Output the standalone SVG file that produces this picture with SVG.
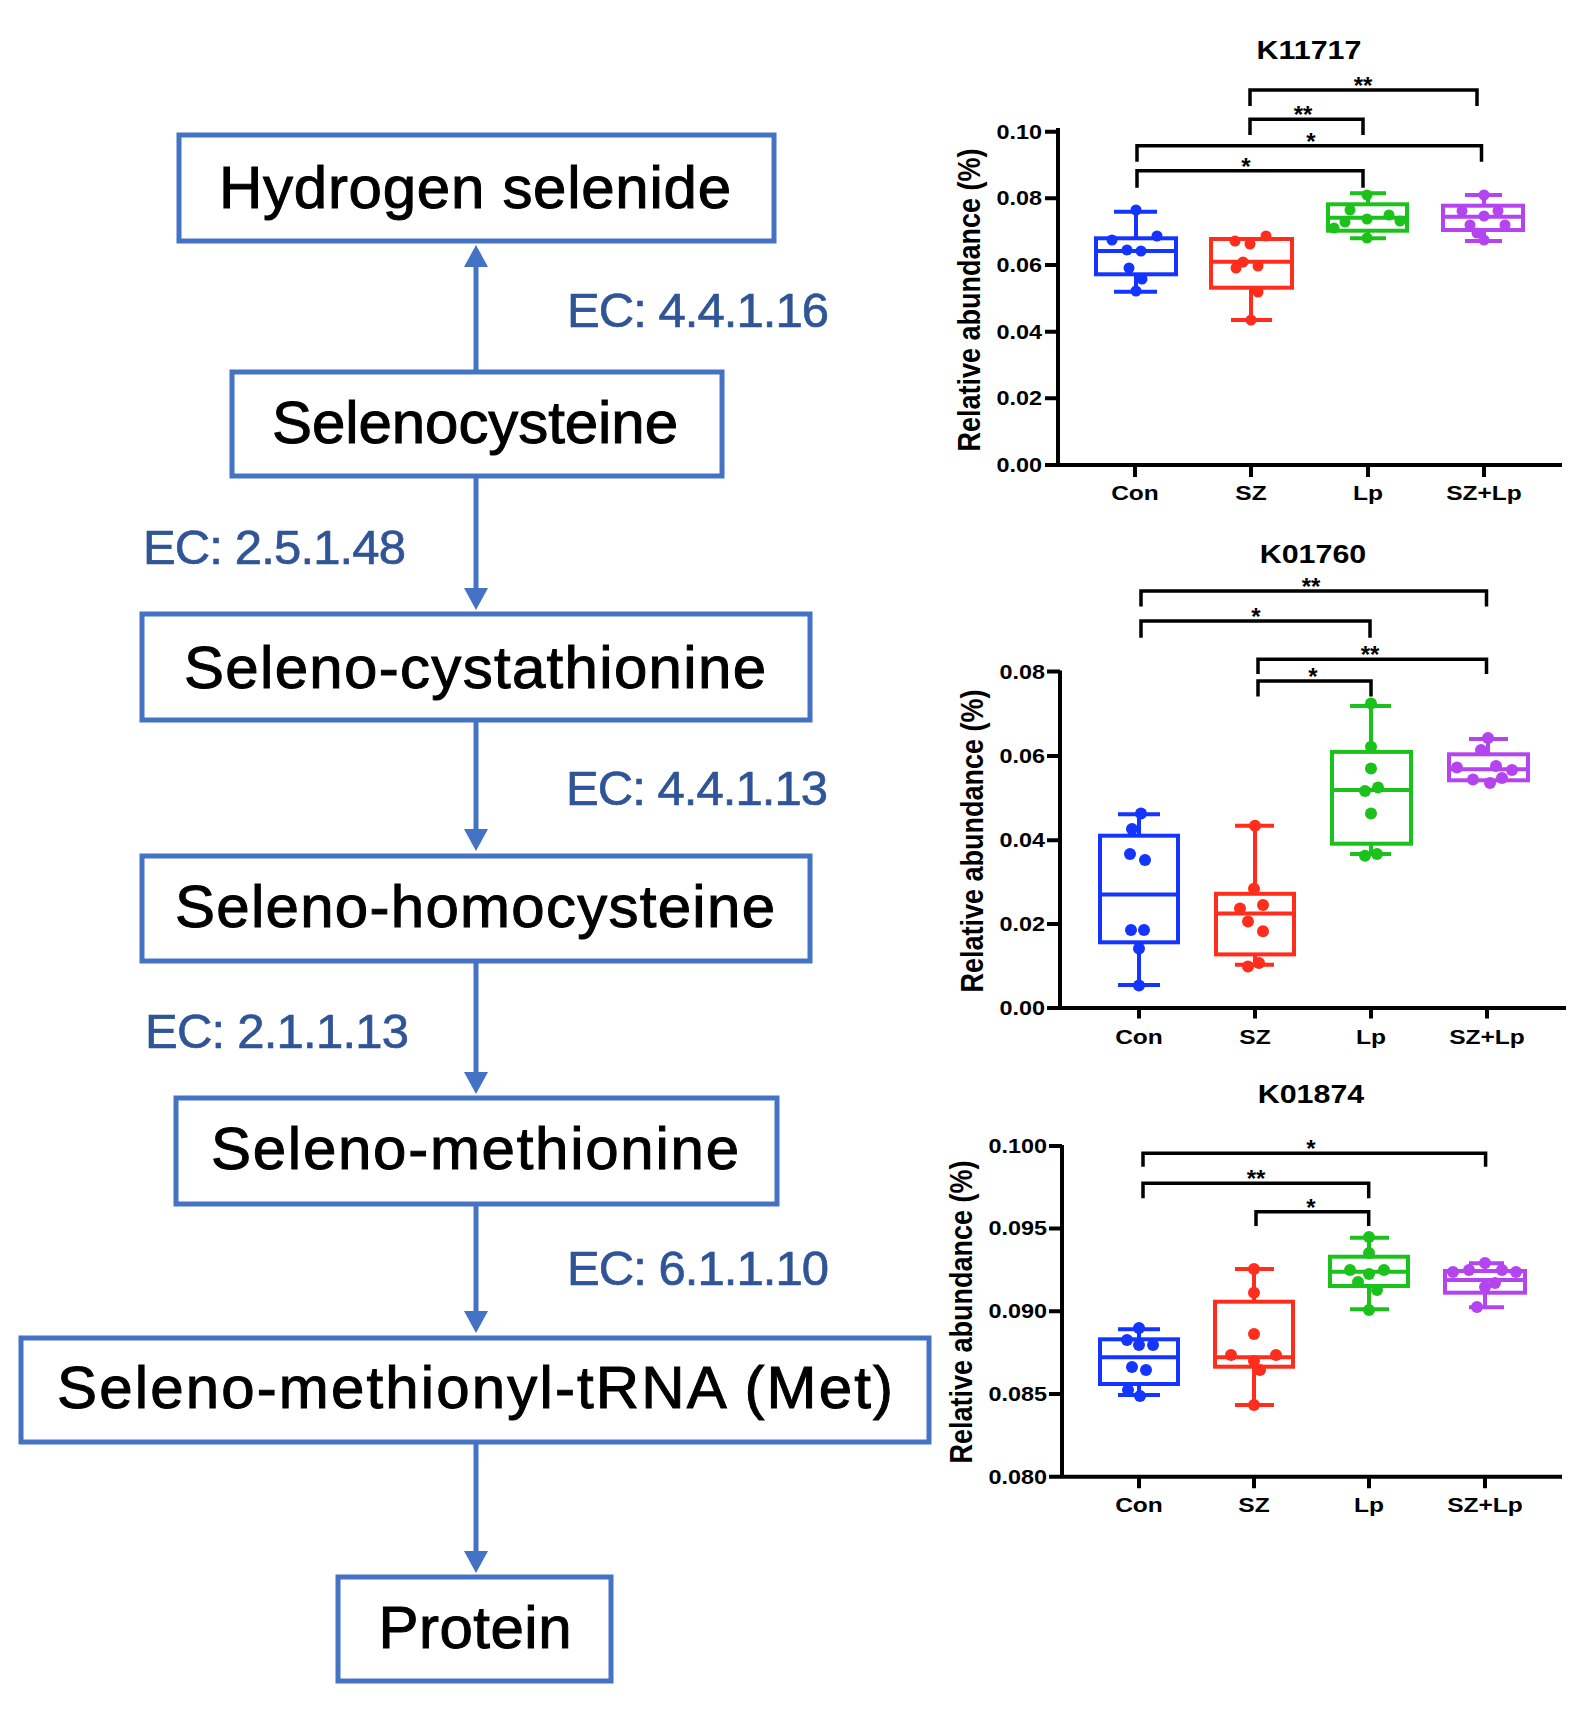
<svg xmlns="http://www.w3.org/2000/svg" width="1596" height="1716" viewBox="0 0 1596 1716">
<defs>
<marker id="ah" markerUnits="userSpaceOnUse" markerWidth="22" markerHeight="24" viewBox="0 0 22 24" refX="12" refY="12" orient="auto">
<path d="M0,0 L22,12 L0,24 Z" fill="#4472C4"/>
</marker>
<style>
.box rect{fill:#fff;stroke:#4472C4;stroke-width:5}
.lbl{font-family:"Liberation Sans",Arial,sans-serif;font-size:60px;text-anchor:middle;fill:#000;stroke:#000;stroke-width:1}
.ec{font-family:"Liberation Sans",Arial,sans-serif;font-size:49px;fill:#2F5597;stroke:#2F5597;stroke-width:0.7}
.arr{stroke:#4472C4;stroke-width:5;fill:none;marker-end:url(#ah)}
.ax{stroke:#000;stroke-width:4;fill:none}
.br{stroke:#000;stroke-width:3.5;fill:none}
.t{font-family:"Liberation Sans",Arial,sans-serif;font-weight:bold;fill:#000}
.title{font-size:26px;text-anchor:middle}
.tick{font-size:20px;text-anchor:end}
.xl{font-size:21px;text-anchor:middle}
.yl{font-size:27px;text-anchor:middle}
.st{font-size:24px;text-anchor:middle}
.bp{fill:none;stroke-width:4}
.blue{stroke:#1434FF}.blue circle{fill:#1434FF;stroke:none}
.red{stroke:#FF2D1C}.red circle{fill:#FF2D1C;stroke:none}
.green{stroke:#1CC21C}.green circle{fill:#1CC21C;stroke:none}
.purple{stroke:#B444F0}.purple circle{fill:#B444F0;stroke:none}
</style>
</defs>
<rect width="1596" height="1716" fill="#fff"/>

<!-- connectors -->
<g id="connectors">
<line class="arr" x1="476" y1="372" x2="476" y2="255"/>
<line class="arr" x1="476" y1="476" x2="476" y2="600"/>
<line class="arr" x1="476" y1="720" x2="476" y2="841"/>
<line class="arr" x1="476" y1="961" x2="476" y2="1084"/>
<line class="arr" x1="476" y1="1204" x2="476" y2="1323"/>
<line class="arr" x1="476" y1="1442" x2="476" y2="1563"/>
<text class="ec" x="567" y="327" textLength="262">EC: 4.4.1.16</text>
<text class="ec" x="143" y="564" textLength="263">EC: 2.5.1.48</text>
<text class="ec" x="566" y="805" textLength="262">EC: 4.4.1.13</text>
<text class="ec" x="145" y="1048" textLength="264">EC: 2.1.1.13</text>
<text class="ec" x="567" y="1285" textLength="262">EC: 6.1.1.10</text>
</g>

<g id="node-hydrogen-selenide" class="box"><rect x="179" y="135" width="595" height="106"/><text class="lbl" x="475" y="208" textLength="512">Hydrogen selenide</text></g>
<g id="node-selenocysteine" class="box"><rect x="232" y="372" width="490" height="104"/><text class="lbl" x="475" y="443" textLength="406">Selenocysteine</text></g>
<g id="node-seleno-cystathionine" class="box"><rect x="142" y="614" width="668" height="106"/><text class="lbl" x="475" y="688" textLength="582">Seleno-cystathionine</text></g>
<g id="node-seleno-homocysteine" class="box"><rect x="142" y="856" width="668" height="105"/><text class="lbl" x="475" y="927" textLength="600">Seleno-homocysteine</text></g>
<g id="node-seleno-methionine" class="box"><rect x="176" y="1098" width="601" height="106"/><text class="lbl" x="475" y="1169" textLength="528">Seleno-methionine</text></g>
<g id="node-seleno-methionyl-trna" class="box"><rect x="21" y="1338" width="908" height="104"/><text class="lbl" x="475" y="1408" textLength="836">Seleno-methionyl-tRNA (Met)</text></g>
<g id="node-protein" class="box"><rect x="338" y="1577" width="273" height="104"/><text class="lbl" x="475" y="1648" textLength="193">Protein</text></g>

<!-- Chart 1: K11717 -->
<g id="chart-K11717">
<text class="t title" transform="translate(1309,59) scale(1.17,1)">K11717</text>
<path class="ax" d="M1058,128 V467 M1045,465 H1562 M1045,131.7 H1058 M1045,198.3 H1058 M1045,265 H1058 M1045,331.7 H1058 M1045,398.3 H1058 M1135,465 V477 M1251,465 V477 M1368,465 V477 M1484,465 V477"/>
<text class="t tick" transform="translate(1042,138.7) scale(1.17,1)">0.10</text>
<text class="t tick" transform="translate(1042,205.3) scale(1.17,1)">0.08</text>
<text class="t tick" transform="translate(1042,272) scale(1.17,1)">0.06</text>
<text class="t tick" transform="translate(1042,338.7) scale(1.17,1)">0.04</text>
<text class="t tick" transform="translate(1042,405.3) scale(1.17,1)">0.02</text>
<text class="t tick" transform="translate(1042,472) scale(1.17,1)">0.00</text>
<text class="t xl" transform="translate(1135,500) scale(1.17,1)">Con</text>
<text class="t xl" transform="translate(1251,500) scale(1.17,1)">SZ</text>
<text class="t xl" transform="translate(1368,500) scale(1.17,1)">Lp</text>
<text class="t xl" transform="translate(1484,500) scale(1.17,1)">SZ+Lp</text>
<text class="t yl" transform="translate(980,300) rotate(-90) scale(1,1.17)">Relative abundance  (%)</text>
<path class="br" d="M1250,106 V90 H1477 V106 M1250,135 V119.3 H1363 V135 M1137,161.7 V145.7 H1481.5 V161.7 M1137,187.7 V170.7 H1363 V187.7"/>
<text class="t st" x="1363" y="94">**</text>
<text class="t st" x="1303" y="123">**</text>
<text class="t st" x="1311" y="150">*</text>
<text class="t st" x="1246" y="175">*</text>
<g class="bp blue"><rect x="1096" y="238.3" width="80" height="36"/><path d="M1096,251 H1176 M1136,238.3 V211.7 M1114,211.7 H1157 M1136,274.3 V291.7 M1114,291.7 H1157"/>
<circle cx="1136" cy="210" r="5.5"/><circle cx="1157" cy="236" r="5.5"/><circle cx="1112" cy="240" r="5.5"/><circle cx="1127" cy="250" r="5.5"/><circle cx="1141" cy="251" r="5.5"/><circle cx="1129" cy="268" r="5.5"/><circle cx="1142" cy="279" r="5.5"/><circle cx="1136" cy="291" r="5.5"/></g>
<g class="bp red"><rect x="1211" y="239" width="81" height="48.7"/><path d="M1211,261.7 H1292 M1251,287.7 V320 M1231,320 H1272"/>
<circle cx="1235" cy="241" r="5.5"/><circle cx="1250" cy="244" r="5.5"/><circle cx="1266" cy="236" r="5.5"/><circle cx="1236" cy="268" r="5.5"/><circle cx="1258" cy="266" r="5.5"/><circle cx="1243" cy="262" r="5.5"/><circle cx="1258" cy="292" r="5.5"/><circle cx="1251" cy="320" r="5.5"/></g>
<g class="bp green"><rect x="1328" y="204.3" width="79" height="26.4"/><path d="M1328,217.7 H1407 M1368,204.3 V193.3 M1350,193.3 H1386 M1368,230.7 V238.3 M1350,238.3 H1386"/>
<circle cx="1367" cy="195" r="5.5"/><circle cx="1350" cy="210" r="5.5"/><circle cx="1389" cy="215" r="5.5"/><circle cx="1367" cy="219" r="5.5"/><circle cx="1334" cy="228" r="5.5"/><circle cx="1367" cy="238" r="5.5"/><circle cx="1400" cy="221" r="5.5"/><circle cx="1345" cy="222" r="5.5"/></g>
<g class="bp purple"><rect x="1443" y="205.7" width="80" height="24.3"/><path d="M1443,216.7 H1523 M1484,205.7 V195 M1465,195 H1502 M1484,230 V241 M1465,241 H1502"/>
<circle cx="1484" cy="195" r="5.5"/><circle cx="1462" cy="211" r="5.5"/><circle cx="1498" cy="211" r="5.5"/><circle cx="1484" cy="216" r="5.5"/><circle cx="1470" cy="225" r="5.5"/><circle cx="1505" cy="225" r="5.5"/><circle cx="1477" cy="233" r="5.5"/><circle cx="1484" cy="240" r="5.5"/></g>
</g>

<!-- Chart 2: K01760 -->
<g id="chart-K01760">
<text class="t title" transform="translate(1313,563) scale(1.17,1)">K01760</text>
<path class="ax" d="M1060,670.6 V1010 M1047,1008 H1566 M1047,671.6 H1060 M1047,755.9 H1060 M1047,840.2 H1060 M1047,923.9 H1060 M1139,1008 V1018.5 M1255,1008 V1018.5 M1371,1008 V1018.5 M1487,1008 V1018.5"/>
<text class="t tick" transform="translate(1045,678.6) scale(1.17,1)">0.08</text>
<text class="t tick" transform="translate(1045,762.9) scale(1.17,1)">0.06</text>
<text class="t tick" transform="translate(1045,847.2) scale(1.17,1)">0.04</text>
<text class="t tick" transform="translate(1045,930.9) scale(1.17,1)">0.02</text>
<text class="t tick" transform="translate(1045,1015) scale(1.17,1)">0.00</text>
<text class="t xl" transform="translate(1139,1044) scale(1.17,1)">Con</text>
<text class="t xl" transform="translate(1255,1044) scale(1.17,1)">SZ</text>
<text class="t xl" transform="translate(1371,1044) scale(1.17,1)">Lp</text>
<text class="t xl" transform="translate(1487,1044) scale(1.17,1)">SZ+Lp</text>
<text class="t yl" transform="translate(983,841) rotate(-90) scale(1,1.17)">Relative abundance  (%)</text>
<path class="br" d="M1141,606.5 V591 H1486.5 V606.5 M1141,637.7 V621.1 H1370 V637.7 M1258,674 V659.2 H1486.5 V674 M1258,696.5 V681 H1371 V696.5"/>
<text class="t st" x="1311" y="595">**</text>
<text class="t st" x="1256" y="625">*</text>
<text class="t st" x="1370" y="663">**</text>
<text class="t st" x="1313" y="685">*</text>
<g class="bp blue"><rect x="1100" y="835.7" width="78" height="106.6"/><path d="M1100,894.5 H1178 M1139,835.7 V814.2 M1118,814.2 H1160 M1139,942.3 V984.9 M1118,984.9 H1160"/>
<circle cx="1141" cy="813.5" r="6"/><circle cx="1132" cy="829" r="6"/><circle cx="1130" cy="854" r="6"/><circle cx="1145" cy="860" r="6"/><circle cx="1131" cy="930" r="6"/><circle cx="1144" cy="930" r="6"/><circle cx="1139" cy="948.5" r="6"/><circle cx="1139" cy="985.6" r="6"/></g>
<g class="bp red"><rect x="1216" y="893.8" width="78" height="60.6"/><path d="M1216,913.6 H1294 M1255,893.8 V825.7 M1235,825.7 H1274 M1255,954.4 V964.8 M1235,964.8 H1274"/>
<circle cx="1255" cy="825.7" r="6"/><circle cx="1254" cy="888.7" r="6"/><circle cx="1240" cy="908.4" r="6"/><circle cx="1263" cy="904.9" r="6"/><circle cx="1248" cy="921.5" r="6"/><circle cx="1263" cy="931.2" r="6"/><circle cx="1248" cy="966.5" r="6"/><circle cx="1259" cy="963" r="6"/></g>
<g class="bp green"><rect x="1332" y="751.9" width="79" height="91.8"/><path d="M1332,790 H1411 M1371,751.9 V705.9 M1350,705.9 H1391 M1371,843.7 V854 M1350,854 H1391"/>
<circle cx="1371" cy="703.5" r="6"/><circle cx="1371" cy="746.7" r="6"/><circle cx="1371" cy="768.5" r="6"/><circle cx="1365" cy="791" r="6"/><circle cx="1378" cy="787.6" r="6"/><circle cx="1371" cy="813.5" r="6"/><circle cx="1365" cy="855.8" r="6"/><circle cx="1377" cy="854" r="6"/></g>
<g class="bp purple"><rect x="1449" y="754.3" width="79" height="26"/><path d="M1449,769.2 H1528 M1488,754.3 V739.1 M1469,739.1 H1508 M1488,780.3 V783.1"/>
<circle cx="1488" cy="738" r="6"/><circle cx="1481" cy="750" r="6"/><circle cx="1457" cy="767.5" r="6"/><circle cx="1496" cy="766" r="6"/><circle cx="1473" cy="779.6" r="6"/><circle cx="1490" cy="783" r="6"/><circle cx="1502" cy="778" r="6"/><circle cx="1512" cy="770" r="6"/></g>
</g>

<!-- Chart 3: K01874 -->
<g id="chart-K01874">
<text class="t title" transform="translate(1311,1103) scale(1.17,1)">K01874</text>
<path class="ax" d="M1062,1145 V1478.7 M1049,1476.7 H1562 M1049,1146 H1062 M1049,1228.4 H1062 M1049,1311.2 H1062 M1049,1393.9 H1062 M1139,1476.7 V1488.3 M1254,1476.7 V1488.3 M1369,1476.7 V1488.3 M1485,1476.7 V1488.3"/>
<text class="t tick" transform="translate(1047,1153) scale(1.17,1)">0.100</text>
<text class="t tick" transform="translate(1047,1235.4) scale(1.17,1)">0.095</text>
<text class="t tick" transform="translate(1047,1318.2) scale(1.17,1)">0.090</text>
<text class="t tick" transform="translate(1047,1400.9) scale(1.17,1)">0.085</text>
<text class="t tick" transform="translate(1047,1483.7) scale(1.17,1)">0.080</text>
<text class="t xl" transform="translate(1139,1512) scale(1.17,1)">Con</text>
<text class="t xl" transform="translate(1254,1512) scale(1.17,1)">SZ</text>
<text class="t xl" transform="translate(1369,1512) scale(1.17,1)">Lp</text>
<text class="t xl" transform="translate(1485,1512) scale(1.17,1)">SZ+Lp</text>
<text class="t yl" transform="translate(972,1312) rotate(-90) scale(1,1.17)">Relative abundance  (%)</text>
<path class="br" d="M1143,1166.7 V1153.3 H1485.6 V1166.7 M1143,1198.3 V1183.3 H1368.7 V1198.3 M1256,1226 V1211.7 H1368.7 V1226"/>
<text class="t st" x="1311" y="1157">*</text>
<text class="t st" x="1256" y="1187">**</text>
<text class="t st" x="1311" y="1215.7">*</text>
<g class="bp blue"><rect x="1100" y="1339.3" width="78" height="44.7"/><path d="M1100,1357.3 H1178 M1139,1339.3 V1329.3 M1118,1329.3 H1160 M1139,1384 V1395 M1118,1395 H1160"/>
<circle cx="1139" cy="1328" r="6"/><circle cx="1127" cy="1340" r="6"/><circle cx="1139" cy="1345" r="6"/><circle cx="1153" cy="1345" r="6"/><circle cx="1132" cy="1367" r="6"/><circle cx="1146" cy="1370" r="6"/><circle cx="1140" cy="1396" r="6"/><circle cx="1128" cy="1390" r="6"/></g>
<g class="bp red"><rect x="1215" y="1301.7" width="78" height="65"/><path d="M1215,1357.3 H1293 M1254,1301.7 V1269 M1235,1269 H1274 M1254,1366.7 V1405 M1235,1405 H1274"/>
<circle cx="1254" cy="1269" r="6"/><circle cx="1254" cy="1292.7" r="6"/><circle cx="1254" cy="1334" r="6"/><circle cx="1231" cy="1355" r="6"/><circle cx="1276" cy="1355" r="6"/><circle cx="1254" cy="1361" r="6"/><circle cx="1260" cy="1370" r="6"/><circle cx="1254" cy="1405" r="6"/></g>
<g class="bp green"><rect x="1330" y="1256.7" width="78" height="29.3"/><path d="M1330,1271.7 H1408 M1369,1256.7 V1237.7 M1350,1237.7 H1389 M1369,1286 V1309.3 M1350,1309.3 H1389"/>
<circle cx="1369" cy="1237" r="6"/><circle cx="1369" cy="1253" r="6"/><circle cx="1350" cy="1270" r="6"/><circle cx="1369" cy="1274" r="6"/><circle cx="1384" cy="1270" r="6"/><circle cx="1377" cy="1290" r="6"/><circle cx="1369" cy="1310" r="6"/><circle cx="1358" cy="1282" r="6"/></g>
<g class="bp purple"><rect x="1445" y="1271" width="80" height="21.7"/><path d="M1445,1280 H1525 M1485,1271 V1263.3 M1469,1263.3 H1504 M1485,1292.7 V1307.3 M1469,1307.3 H1504"/>
<circle cx="1485" cy="1263" r="6"/><circle cx="1453" cy="1272" r="6"/><circle cx="1469" cy="1270" r="6"/><circle cx="1502" cy="1270" r="6"/><circle cx="1516" cy="1272" r="6"/><circle cx="1485" cy="1287" r="6"/><circle cx="1477" cy="1307" r="6"/><circle cx="1495" cy="1283" r="6"/></g>
</g>
</svg>
